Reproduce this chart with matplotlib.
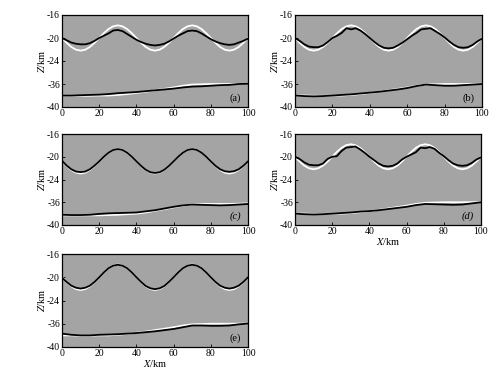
import matplotlib
matplotlib.use("Agg")
import matplotlib.pyplot as plt
import numpy as np

plt.rcParams['font.family'] = ['Liberation Serif', 'DejaVu Serif']
plt.rcParams['mathtext.fontset'] = 'stix'

# --- data (km) ---
x_top = np.arange(0, 100.1, 2.5)
x_bot = np.arange(0, 100.1, 5)

# true upper interface (white)
top_true = [-20.0, -20.84, -21.56, -22.03, -22.2, -22.03, -21.56, -20.84, -20.0,
            -19.16, -18.44, -17.97, -17.8, -17.97, -18.44, -19.16, -20.0,
            -20.84, -21.56, -22.03, -22.2, -22.03, -21.56, -20.84, -20.0,
            -19.16, -18.44, -17.97, -17.8, -17.97, -18.44, -19.16, -20.0,
            -20.84, -21.56, -22.03, -22.2, -22.03, -21.56, -20.84, -20.0]
top_true_c = [-20.8, -21.62, -22.32, -22.79, -22.95, -22.79, -22.32, -21.62, -20.8,
              -19.98, -19.28, -18.81, -18.65, -18.81, -19.28, -19.98, -20.8,
              -21.62, -22.32, -22.79, -22.95, -22.79, -22.32, -21.62, -20.8,
              -19.98, -19.28, -18.81, -18.65, -18.81, -19.28, -19.98, -20.8,
              -21.62, -22.32, -22.79, -22.95, -22.79, -22.32, -21.62, -20.8]

# inverted upper interface (black)
top_a = [-20.0, -20.4, -20.8, -21.0, -21.1, -21.1, -20.9, -20.5, -20.0,
         -19.6, -19.2, -18.7, -18.6, -18.8, -19.3, -19.8, -20.3,
         -20.7, -21.0, -21.2, -21.3, -21.2, -21.0, -20.6, -20.1,
         -19.6, -19.2, -18.8, -18.7, -18.8, -19.2, -19.7, -20.2,
         -20.6, -20.9, -21.1, -21.2, -21.1, -20.8, -20.5, -20.1]
top_b = [-20.0, -20.5, -21.1, -21.5, -21.6, -21.6, -21.3, -20.7, -20.0,
         -19.6, -19.1, -18.3, -18.5, -18.3, -18.7, -19.3, -20.0,
         -20.7, -21.3, -21.7, -21.8, -21.7, -21.3, -20.8, -20.2,
         -19.6, -19.1, -18.5, -18.4, -18.3, -18.8, -19.3, -19.9,
         -20.6, -21.2, -21.6, -21.7, -21.6, -21.2, -20.6, -20.1]
top_c = [-20.7, -21.55, -22.2, -22.6, -22.7, -22.6, -22.2, -21.55, -20.8,
         -19.98, -19.28, -18.81, -18.65, -18.81, -19.28, -19.98, -20.8,
         -21.6, -22.28, -22.72, -22.85, -22.72, -22.28, -21.6, -20.8,
         -19.98, -19.28, -18.81, -18.65, -18.81, -19.28, -19.98, -20.8,
         -21.58, -22.2, -22.55, -22.65, -22.55, -22.2, -21.58, -20.8]
top_d = [-20.0, -20.4, -21.0, -21.4, -21.5, -21.5, -21.2, -20.4, -20.0,
         -19.9, -19.0, -18.4, -18.3, -18.2, -18.7, -19.3, -20.0,
         -20.6, -21.2, -21.6, -21.7, -21.6, -21.2, -20.5, -20.0,
         -19.6, -19.2, -18.4, -18.5, -18.3, -18.6, -19.3, -19.9,
         -20.6, -21.2, -21.5, -21.6, -21.5, -21.1, -20.5, -20.1]
top_e = [-20.1, -20.8, -21.45, -21.8, -21.95, -21.8, -21.45, -20.8, -20.0,
         -19.16, -18.44, -18.0, -17.85, -18.0, -18.44, -19.16, -20.0,
         -20.8, -21.5, -21.9, -22.05, -21.9, -21.5, -20.8, -20.0,
         -19.16, -18.44, -18.0, -17.85, -18.0, -18.44, -19.16, -20.0,
         -20.8, -21.45, -21.8, -21.95, -21.8, -21.45, -20.8, -20.0]

# true lower interface (white)
bot_true = [-38.0, -38.0, -38.05, -38.05, -38.0, -38.0, -37.9, -37.75, -37.55, -37.35,
            -37.1, -36.85, -36.6, -36.3, -36.1, -36.05, -36.0, -36.0, -36.0, -35.95, -35.9]
bot_true_c = [-38.3, -38.3, -38.3, -38.3, -38.3, -38.25, -38.2, -38.1, -38.0, -37.8,
              -37.5, -37.2, -36.9, -36.6, -36.35, -36.3, -36.3, -36.3, -36.3, -36.25, -36.2]

# inverted lower interface (black)
bot_a = [-38.0, -38.0, -37.95, -37.9, -37.85, -37.75, -37.6, -37.5, -37.4, -37.25,
         -37.1, -36.95, -36.8, -36.6, -36.45, -36.4, -36.3, -36.2, -36.15, -36.0, -35.9]
bot_b = [-38.0, -38.1, -38.15, -38.1, -38.0, -37.9, -37.8, -37.65, -37.5, -37.35,
         -37.15, -36.95, -36.7, -36.35, -36.1, -36.2, -36.3, -36.3, -36.2, -36.1, -36.0]
bot_c = [-38.2, -38.25, -38.25, -38.2, -38.05, -37.95, -37.9, -37.85, -37.8, -37.6,
         -37.4, -37.1, -36.8, -36.55, -36.4, -36.45, -36.5, -36.55, -36.5, -36.4, -36.3]
bot_d = [-38.0, -38.1, -38.15, -38.1, -38.0, -37.9, -37.8, -37.65, -37.55, -37.4,
         -37.2, -37.0, -36.8, -36.5, -36.3, -36.35, -36.4, -36.45, -36.4, -36.2, -36.0]
bot_e = [-37.7, -37.9, -38.0, -38.0, -37.9, -37.85, -37.8, -37.7, -37.6, -37.45,
         -37.3, -37.1, -36.9, -36.6, -36.3, -36.3, -36.35, -36.35, -36.3, -36.1, -35.9]

y_ticks = [-16, -20, -24, -36, -40]
x_ticks = [0, 20, 40, 60, 80, 100]
panel_labels = ['(a)', '(b)', '(c)', '(d)', '(e)']


# broken depth axis: -36..-24 squeezed into one tick step
def fwd(z):
    z = np.asarray(z, dtype=float)
    return np.where(z >= -24, z, np.where(z >= -36, -24 + (z + 24) / 3.0, z + 8))


def inv(y):
    y = np.asarray(y, dtype=float)
    return np.where(y >= -24, y, np.where(y >= -28, -24 + (y + 24) * 3.0, y - 8))


fig = plt.figure(figsize=(4.96, 3.71), dpi=100)

# axes boxes in pixels: left, top, right, bottom
boxes = [(62, 15, 248, 107), (295, 15, 482, 107),
         (62, 134, 248, 225), (295, 134, 481, 225),
         (62, 254, 248, 347)]
panels = [(top_true, top_a, bot_true, bot_a),
          (top_true, top_b, bot_true, bot_b),
          (top_true_c, top_c, bot_true_c, bot_c),
          (top_true, top_d, bot_true, bot_d),
          (top_true, top_e, bot_true, bot_e)]

W, H = 496.0, 371.0
for i, (box, (tt, tb, bt, bb)) in enumerate(zip(boxes, panels)):
    l, t, r, b = box
    ax = fig.add_axes([l / W, 1 - b / H, (r - l) / W, (b - t) / H])
    ax.set_facecolor('#a4a4a4')
    ax.set_yscale('function', functions=(fwd, inv))

    ax.plot(x_top, tt, color='white', lw=1.3)
    ax.plot(x_bot, bt, color='white', lw=1.3)
    ax.plot(x_top, tb, color='black', lw=1.3)
    ax.plot(x_bot, bb, color='black', lw=1.3)

    ax.set_xlim(0, 100)
    ax.set_ylim(-40, -16)
    ax.set_xticks(x_ticks)
    ax.set_yticks(y_ticks)
    ax.set_yticklabels([str(v) for v in y_ticks])
    ax.minorticks_off()
    ax.tick_params(direction='in', length=2.5, width=0.6, labelsize=7, pad=1.5)
    for s in ax.spines.values():
        s.set_linewidth(0.9)

    ax.set_ylabel('$Z$/km', fontsize=7.5, labelpad=0)
    if i >= 3:
        ax.set_xlabel('$X$/km', fontsize=7.5, labelpad=0)
    lab = panel_labels[i]
    style = 'italic' if i in (2, 3) else 'normal'
    ax.text(0.93, 0.1, lab, transform=ax.transAxes, ha='center', va='center',
            fontsize=7.5, style=style)

plt.savefig('out.png', dpi=100)
plt.close()
